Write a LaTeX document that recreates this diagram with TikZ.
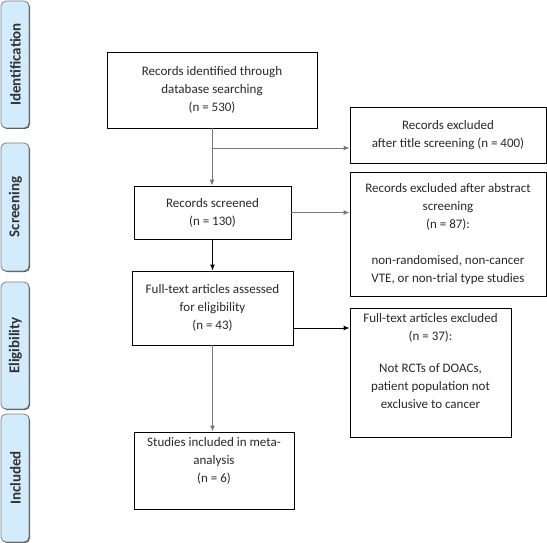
\documentclass[tikz,border=0pt]{standalone}
\usepackage{fontspec}
\setmainfont{Carlito}
\usetikzlibrary{arrows.meta}
\definecolor{sidefill}{RGB}{210,236,252}
\definecolor{sideborder}{RGB}{128,128,128}
\definecolor{sidetext}{RGB}{50,50,50}
\definecolor{txt}{RGB}{40,40,40}
\definecolor{lgray}{RGB}{120,120,120}
\begin{document}
\begin{tikzpicture}[x=1pt,y=1pt,
  box/.style={draw=black, line width=0.9pt, rectangle, inner sep=0pt, align=center,
    font=\fontsize{13}{18}\selectfont, text=txt},
  arr/.style={line width=0.9pt, -{Latex[length=6pt,width=5pt]}},
  sidebox/.style={draw=sideborder, fill=sidefill, line width=0.8pt, rounded corners=5pt, inner sep=0pt},
  sidelabel/.style={rotate=90, font=\fontsize{15}{17}\selectfont\bfseries, text=sidetext}
]
\useasboundingbox (0,0) rectangle (547,-543);

% side bars
\foreach \name/\top/\bot/\lab in {sid/1/128/Identification, sscr/143/271/Screening, selig/282/409/Eligibility, sincl/414/542/Included}{
  \fill[black!70, rounded corners=5pt] (2,-\top-1) rectangle (30,-\bot-1);
  \draw[sidebox] (1,-\top) rectangle (29,-\bot);
  \node[sidelabel] (\name) at (15.5,{-(\top+\bot)/2}) {\lab};
}

% main boxes
\node[box, minimum width=210pt, minimum height=76pt] (b1) at (212,-90)
  {Records identified through\\database searching\\(n = 530)};
\node[box, minimum width=196pt, minimum height=56pt] (e1) at (448,-135)
  {Records excluded\\after title screening (n = 400)};
\node[box, minimum width=157pt, minimum height=53pt] (b2) at (212.5,-212.5)
  {Records screened\\(n = 130)};
\node[box, minimum width=196pt, minimum height=124pt] (e2) at (448,-234)
  {Records excluded after abstract\\screening\\(n = 87):\\[18pt]non-randomised, non-cancer\\VTE, or non-trial type studies};
\node[box, minimum width=161pt, minimum height=74pt] (b3) at (212.5,-308)
  {Full-text articles assessed\\for eligibility\\(n = 43)};
\node[box, minimum width=161pt, minimum height=129pt] (e3) at (430.5,-372.5)
  {Full-text articles excluded\\(n = 37):\\[14pt]Not RCTs of DOACs,\\patient population not\\exclusive to cancer\\[6pt]};
\node[box, minimum width=160pt, minimum height=77pt] (b4) at (214,-470.5)
  {Studies included in meta-\\analysis\\(n = 6)\\[4pt]};

% connectors
\coordinate (j1) at (212,-148);
\coordinate (j3) at (212.5,-328);
\draw[arr, lgray] (b1.south) -- (b1.south |- b2.north);
\draw[arr, lgray] (j1) -- (j1 -| e1.west);
\draw[arr, lgray] (b2.east) -- (b2.east -| e2.west);
\draw[arr, black] (b2.south) -- (b3.north);
\draw[arr, black] (b3.east |- j3) -- (j3 -| e3.west);
\draw[arr, lgray] (b3.south) -- (b3.south |- b4.north);
\end{tikzpicture}
\end{document}
